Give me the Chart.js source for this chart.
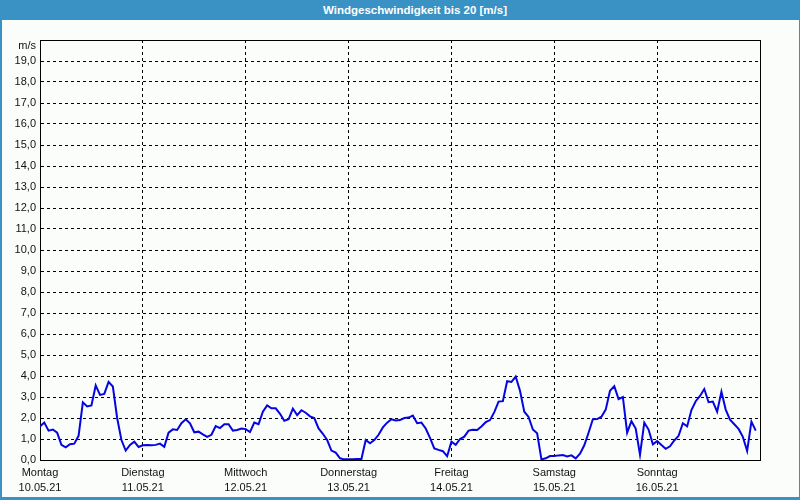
<!DOCTYPE html>
<html>
<head>
<meta charset="utf-8">
<script src="https://cdn.jsdelivr.net/npm/chart.js@4/dist/chart.umd.min.js"></script>
<style>
  html, body { margin: 0; padding: 0; background: #ffffff; }
  #wrap { position: absolute; left: 0; top: 0; width: 800px; height: 500px; background: #3a91c3; overflow: hidden; }
  #title { position: absolute; left: 0; top: 0; width: 800px; height: 20px; box-sizing: border-box; padding-left: 30px;
           color: #ffffff; font: bold 11.5px "Liberation Sans", Arial, sans-serif; line-height: 20px; text-align: center; }
  #panel { position: absolute; left: 2px; top: 20px; width: 797px; height: 477px; background: #fbfdfb; }
  canvas { display: block; }
</style>
</head>
<body>
<div id="wrap">
  <div id="title">Windgeschwindigkeit bis 20 [m/s]</div>
  <div id="panel"><canvas id="c" width="797" height="477"></canvas></div>
</div>
<script>
// Day labels (x axis, one per 24 hourly values)
const dayNames = ['Montag', 'Dienstag', 'Mittwoch', 'Donnerstag', 'Freitag', 'Samstag', 'Sonntag'];
const dayDates = ['10.05.21', '11.05.21', '12.05.21', '13.05.21', '14.05.21', '15.05.21', '16.05.21'];
const yUnit = 'm/s';

// Hourly wind speed [m/s], 10.05.21 00:00 .. 16.05.21 23:00
const windMon = [1.60, 1.78, 1.40, 1.45, 1.30, 0.72, 0.60, 0.75, 0.78, 1.15, 2.75, 2.55,
                 2.60, 3.55, 3.10, 3.15, 3.72, 3.50, 2.00, 0.95, 0.45, 0.72, 0.87, 0.62];
const windTue = [0.70, 0.72, 0.70, 0.72, 0.78, 0.63, 1.30, 1.46, 1.43, 1.75, 1.94, 1.75,
                 1.32, 1.35, 1.22, 1.10, 1.20, 1.62, 1.52, 1.70, 1.70, 1.40, 1.43, 1.50];
const windWed = [1.47, 1.33, 1.78, 1.70, 2.30, 2.60, 2.46, 2.46, 2.20, 1.87, 1.94, 2.45,
                 2.14, 2.37, 2.25, 2.08, 2.00, 1.50, 1.25, 0.95, 0.45, 0.35, 0.08, 0.03];
const windThu = [0.03, 0.03, 0.05, 0.05, 0.95, 0.80, 0.95, 1.20, 1.55, 1.78, 1.94, 1.88,
                 1.90, 2.00, 2.02, 2.12, 1.75, 1.78, 1.50, 1.05, 0.55, 0.48, 0.42, 0.18];
const windFri = [0.87, 0.72, 1.00, 1.11, 1.40, 1.44, 1.43, 1.60, 1.80, 1.90, 2.28, 2.78,
                 2.80, 3.75, 3.72, 3.97, 3.30, 2.30, 2.05, 1.45, 1.27, 0.03, 0.08, 0.19];
const windSat = [0.19, 0.22, 0.24, 0.17, 0.22, 0.08, 0.30, 0.70, 1.30, 1.94, 1.95, 2.06,
                 2.40, 3.30, 3.52, 2.90, 3.00, 1.30, 1.85, 1.50, 0.25, 1.78, 1.45, 0.75];
const windSun = [0.90, 0.71, 0.53, 0.65, 0.93, 1.15, 1.75, 1.60, 2.38, 2.80, 3.05, 3.38,
                 2.75, 2.78, 2.30, 3.25, 2.40, 1.92, 1.70, 1.48, 1.10, 0.43, 1.83, 1.40];

const windAll = [].concat(windMon, windTue, windWed, windThu, windFri, windSat, windSun);
const points = windAll.map((v, i) => ({ x: i, y: v }));

const FONT = { family: '"Liberation Sans", Arial, sans-serif', size: 11 };

const framePlugin = {
  id: 'frame',
  beforeDatasetsDraw(chart) {
    const { ctx, chartArea: a } = chart;
    ctx.save();
    ctx.strokeStyle = '#000000';
    ctx.lineWidth = 1;
    ctx.setLineDash([]);
    ctx.strokeRect(Math.round(a.left) + 0.5, Math.round(a.top) + 0.5,
                   Math.round(a.right - a.left), Math.round(a.bottom - a.top));
    ctx.restore();
  },
  afterDraw(chart) {
    const { ctx, chartArea: a } = chart;
    ctx.save();
    ctx.fillStyle = '#111111';
    ctx.font = '11px "Liberation Sans", Arial, sans-serif';
    ctx.textAlign = 'right';
    ctx.textBaseline = 'middle';
    ctx.fillText(yUnit, a.left - 4, a.top + 6);
    ctx.restore();
  }
};

const gridColor = ctx => {
  const t = ctx.tick;
  if (!t) return '#000000';
  const s = ctx.scale;
  return (t.value === s.min || t.value === s.max) ? 'rgba(0,0,0,0)' : '#000000';
};

new Chart(document.getElementById('c'), {
  type: 'line',
  data: {
    datasets: [{
      data: points,
      borderColor: '#0505e0',
      borderWidth: 2,
      pointRadius: 0,
      tension: 0,
      fill: false
    }]
  },
  options: {
    responsive: false,
    animation: false,
    events: [],
    layout: { padding: { left: 0, right: 39, top: 20, bottom: 0 } },
    plugins: { legend: { display: false }, title: { display: false }, tooltip: { enabled: false } },
    scales: {
      x: {
        type: 'linear',
        min: 0,
        max: 168,
        afterFit: s => { s.height = 37; },
        border: { display: true, color: '#000000', width: 1, dash: [3, 3] },
        grid: { color: gridColor, lineWidth: 1, drawTicks: false },
        ticks: {
          stepSize: 24,
          autoSkip: false,
          maxRotation: 0,
          padding: 6,
          color: '#111111',
          font: Object.assign({ lineHeight: 1.35 }, FONT),
          callback: v => {
            const i = Math.round(v / 24);
            return i < dayNames.length ? [dayNames[i], dayDates[i]] : '';
          }
        }
      },
      y: {
        min: 0,
        max: 20,
        afterFit: s => { s.width = 38; },
        border: { display: true, color: '#000000', width: 1, dash: [3, 3] },
        grid: { color: gridColor, lineWidth: 1, drawTicks: false },
        ticks: {
          stepSize: 1,
          padding: 4,
          color: '#111111',
          font: FONT,
          callback: v => (v >= 20 ? '' : v.toFixed(1).replace('.', ','))
        }
      }
    }
  },
  plugins: [framePlugin]
});
</script>
</body>
</html>
